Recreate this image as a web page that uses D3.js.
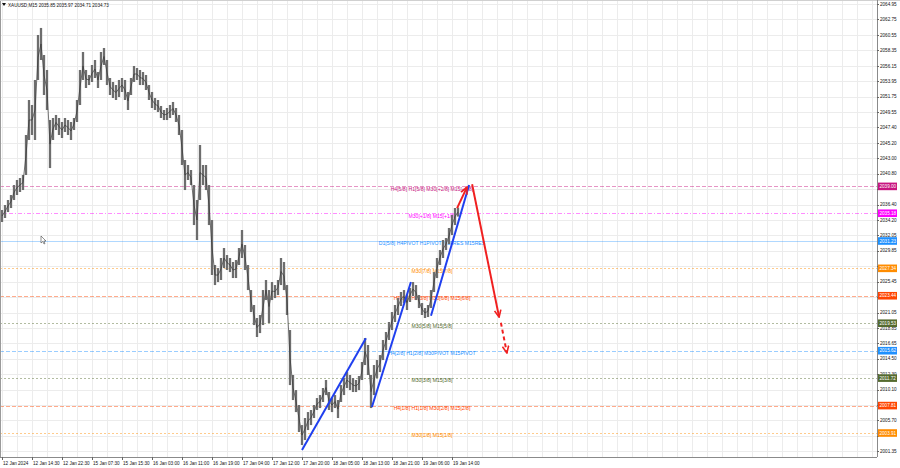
<!DOCTYPE html>
<html><head><meta charset="utf-8">
<script src="https://cdn.jsdelivr.net/npm/d3@7/dist/d3.min.js"></script>
<style>
html,body{margin:0;padding:0;background:#fff;}
svg{display:block;font-family:"Liberation Sans",Arial,sans-serif;}
</style></head>
<body>
<svg id="chart" width="900" height="468"></svg>
<script>
// ---------- DATA ----------
const symbolTitle = "XAUUSD,M15";
const lastOHLC = [2035.85, 2035.97, 2034.71, 2034.73];

// price bars (each = a small group of M15 candles): highs and lows
const barHigh = [2035.64,2036.35,2037.06,2037.77,2039.19,2039.91,2040.19,2040.62,2046.31,2051.29,
2050.58,2054.14,2060.54,2061.54,2057.69,2055.56,2048.44,2048.73,2049.16,2048.73,
2048.16,2048.73,2048.44,2048.16,2048.73,2051.29,2055.56,2058.12,2055.56,2054.85,
2056.27,2056.98,2055.27,2058.12,2058.69,2056.98,2054.42,2053.85,2053.42,2054.14,
2054.42,2054.14,2052.43,2054.42,2056.13,2055.84,2055.56,2055.27,2054.85,2053.42,
2052.43,2051.57,2051.29,2050.44,2049.87,2050.15,2050.58,2051.01,2050.15,2049.16,
2047.02,2042.75,2042.04,2041.33,2039.19,2037.06,2044.89,2042.04,2042.04,2039.19,
2034.21,2027.81,2027.38,2028.81,2030.23,2029.23,2028.81,2028.24,2028.52,2030.23,
2032.79,2030.66,2027.81,2024.25,2022.12,2020.27,2020.70,2024.25,2025.68,2024.25,
2025.39,2024.96,2025.68,2028.81,2028.24,2024.96,2018.56,2012.16,2010.02,2007.89,
2005.04,2006.04,2006.89,2007.18,2007.89,2008.88,2009.31,2010.31,2011.45,2009.74,
2008.88,2009.31,2008.60,2010.73,2011.73,2012.58,2012.16,2011.73,2011.45,2012.02,
2014.01,2017.42,2016.43,2012.16,2013.58,2014.29,2015.00,2017.14,2018.28,2019.70,
2021.12,2022.12,2023.11,2023.97,2024.25,2023.54,2024.54,2025.39,2024.96,2023.54,
2022.40,2021.69,2022.12,2024.25,2026.81,2028.81,2029.94,2031.37,2031.65,2033.08,
2034.93,2035.92,2035.97];
const barLow = [2033.93,2034.50,2035.35,2035.92,2037.06,2037.77,2038.20,2038.48,2040.62,2045.60,
2046.31,2045.60,2054.14,2056.98,2052.00,2049.87,2041.61,2045.60,2047.02,2046.31,
2045.88,2046.74,2046.31,2045.60,2047.02,2048.16,2050.58,2054.14,2053.00,2053.42,
2053.85,2054.42,2053.00,2054.14,2056.27,2053.42,2052.00,2051.57,2051.29,2051.72,
2052.43,2051.29,2049.87,2052.00,2053.85,2054.14,2053.42,2053.42,2052.71,2051.29,
2050.15,2049.87,2049.58,2048.73,2048.44,2048.44,2048.73,2049.16,2048.16,2046.31,
2042.04,2038.48,2039.91,2039.19,2033.50,2031.37,2037.06,2039.19,2038.48,2033.50,
2026.39,2024.96,2025.39,2025.68,2027.38,2027.10,2026.81,2025.96,2025.96,2027.81,
2028.81,2027.10,2024.25,2021.12,2019.27,2017.57,2018.13,2019.27,2022.83,2019.56,
2022.83,2023.11,2023.54,2024.96,2024.25,2020.70,2010.73,2008.60,2006.89,2004.05,
2002.20,2002.91,2004.33,2005.04,2006.04,2007.18,2007.46,2008.32,2009.31,2007.18,
2006.89,2007.46,2006.04,2008.32,2009.31,2010.31,2010.02,2009.74,2009.74,2010.02,
2011.45,2013.58,2012.16,2007.46,2009.31,2011.73,2012.58,2014.29,2015.71,2017.14,
2018.56,2019.70,2020.70,2021.98,2022.40,2021.41,2022.55,2023.40,2022.83,2021.69,
2020.70,2020.27,2020.41,2021.69,2023.97,2025.96,2027.81,2028.81,2029.94,2030.80,
2032.08,2033.50,2034.71];

// time axis labels and the bar index they sit on
const timeLabels = ["12 Jan 2024","12 Jan 14:30","12 Jan 22:30","15 Jan 07:30","15 Jan 15:30","16 Jan 03:00",
"16 Jan 11:00","16 Jan 19:00","17 Jan 04:00","17 Jan 12:00","17 Jan 20:00","18 Jan 05:00",
"18 Jan 13:00","18 Jan 21:00","19 Jan 06:00","19 Jan 14:00"];
const timeLabelIdx = [0,10,20,30,40,50,60,70,80,90,100,110,120,130,140,150];

// price axis ticks
const priceTicks = [2064.95,2062.75,2060.55,2058.35,2056.15,2053.95,2051.75,2049.55,2047.40,2045.20,
2043.00,2040.80,2038.60,2036.40,2034.20,2032.05,2029.85,2027.65,2025.45,2023.25,2021.05,2018.85,
2016.65,2014.50,2012.30,2010.10,2007.90,2005.70,2003.50,2001.35];

// Murrey math levels
const levelPrices = [2039.00,2035.18,2031.23,2027.34,2023.44,2019.53,2015.62,2011.72,2007.81,2003.91];
const levelNames = ["H4[5/8] H1[5/8] M30[+2/8] M15[+2/8]","M30[+1/8] M15[+1/8]",
"D1[5/8] H4PIVOT H1PIVOT M30RES M15RES","M30[7/8] M15[7/8]","H4[3/8] H1[3/8] M30[6/8] M15[6/8]",
"M30[5/8] M15[5/8]","H4[2/8] H1[2/8] M30PIVOT M15PIVOT","M30[3/8] M15[3/8]",
"H4[1/8] H1[1/8] M30[2/8] M15[2/8]","M30[1/8] M15[1/8]"];
const levelColors = ["#c8157f","#ff00ff","#1e90ff","#ff8c00","#ff4500","#556b2f","#1e90ff","#556b2f","#ff4500","#ff8c00"];
const levelDash = ["4,2","4,2,1,2","none","2,2","4,2","2,2","4,2","2,2","4,2","2,2"];

// zigzag swings (bar index, price)
const swingStart = [[100,2001.5],[123.3,2007.6],[143,2020.6]];
const swingEnd   = [[121.3,2017.4],[136.3,2025.4],[155.7,2039.2]];
// projected path arrows
const projStart = [[151.7,2035.9],[156.7,2039.3],[166.3,2019.6]];
const projEnd   = [[155.0,2038.9],[165.7,2020.4],[168.3,2015.3]];
const projDash  = ["none","none","4,3"];

// ---------- CHART ----------
const W = 900, H = 468, plotR = 877, plotB = 457;
const svg = d3.select("#chart");
const x = d3.scaleLinear().domain([0, 291]).range([2, 875]);
const y = d3.scaleLinear().domain([2001.35, 2064.95]).range([451, 4]);

svg.append("rect").attr("width",W).attr("height",H).attr("fill","#fff");

// grid
const grid = svg.append("g").attr("stroke","#ececec").attr("stroke-width",1);
grid.selectAll("line.v").data(d3.range(0, 292, 5)).join("line")
  .attr("x1",d=>Math.round(x(d))+0.5).attr("x2",d=>Math.round(x(d))+0.5)
  .attr("y1",0).attr("y2",plotB);
grid.selectAll("line.h").data(priceTicks).join("line")
  .attr("x1",0).attr("x2",plotR)
  .attr("y1",d=>Math.round(y(d))+0.5).attr("y2",d=>Math.round(y(d))+0.5);

// level lines
const lv = svg.append("g");
levelPrices.forEach((p,i)=>{
  lv.append("line").attr("x1",0).attr("x2",plotR)
    .attr("y1",Math.round(y(p))+0.5).attr("y2",Math.round(y(p))+0.5)
    .attr("stroke",levelColors[i]).attr("stroke-opacity",i===2?0.35:0.45)
    .attr("stroke-width",1)
    .attr("stroke-dasharray",levelDash[i]==="none"?null:levelDash[i]);
  lv.append("text").attr("x",432).attr("y",y(p)+4.3)
    .attr("text-anchor","middle").attr("font-size",5.1)
    .attr("fill",levelColors[i]).text(levelNames[i]);
});

// price bars
const bars = svg.append("g");
bars.selectAll("line.w").data(barHigh).join("line")
  .attr("x1",(d,i)=>x(i)).attr("x2",(d,i)=>x(i))
  .attr("y1",d=>y(d)).attr("y2",(d,i)=>y(barLow[i]))
  .attr("stroke","#b4b4b4").attr("stroke-width",2.6);
bars.selectAll("line.b").data(barHigh).join("line")
  .attr("x1",(d,i)=>x(i)).attr("x2",(d,i)=>x(i))
  .attr("y1",d=>y(d)).attr("y2",(d,i)=>y(barLow[i]))
  .attr("stroke","#262626").attr("stroke-width",1);
bars.append("path")
  .attr("d", d3.line().x((d,i)=>x(i)).y((d,i)=>y((d+barLow[i])/2))(barHigh))
  .attr("fill","none").attr("stroke","#3a3a3a").attr("stroke-width",0.7);

// zigzag
const zz = svg.append("g");
swingStart.forEach((s,i)=>{
  zz.append("line").attr("x1",x(s[0])).attr("y1",y(s[1]))
    .attr("x2",x(swingEnd[i][0])).attr("y2",y(swingEnd[i][1]))
    .attr("stroke","#1f3fef").attr("stroke-width",2);
});

// arrow marker
const defs = svg.append("defs");
defs.append("marker").attr("id","ah").attr("viewBox","-8 -4 9 8")
  .attr("markerWidth",9).attr("markerHeight",8).attr("refX",0).attr("refY",0)
  .attr("orient","auto").attr("markerUnits","userSpaceOnUse")
  .append("path").attr("d","M-7,-3.2 L0,0 L-7,3.2").attr("fill","none")
  .attr("stroke","#f02020").attr("stroke-width",1.6);
projStart.forEach((s,i)=>{
  zz.append("line").attr("x1",x(s[0])).attr("y1",y(s[1]))
    .attr("x2",x(projEnd[i][0])).attr("y2",y(projEnd[i][1]))
    .attr("stroke","#f02020").attr("stroke-width",2)
    .attr("stroke-dasharray",projDash[i]==="none"?null:projDash[i])
    .attr("marker-end","url(#ah)");
});

// frame
svg.append("line").attr("x1",0.5).attr("x2",0.5).attr("y1",0).attr("y2",plotB).attr("stroke","#9a9a9a");
svg.append("line").attr("x1",0).attr("x2",W).attr("y1",0.5).attr("y2",0.5).attr("stroke","#d0d0d0");
svg.append("line").attr("x1",plotR+0.5).attr("x2",plotR+0.5).attr("y1",0).attr("y2",plotB).attr("stroke","#8a8a8a");
svg.append("line").attr("x1",0).attr("x2",plotR).attr("y1",plotB+0.5).attr("y2",plotB+0.5).attr("stroke","#8a8a8a");

// y axis labels (labels sitting under a level box are not drawn)
const ya = svg.append("g").attr("font-size",4.6).attr("fill","#111");
priceTicks.forEach(p=>{
  ya.append("line").attr("x1",plotR).attr("x2",plotR+2).attr("y1",Math.round(y(p))+0.5).attr("y2",Math.round(y(p))+0.5).attr("stroke","#666");
  const hidden = levelPrices.some(l=>Math.abs(y(l)-y(p))<3.4);
  if(!hidden) ya.append("text").attr("x",880).attr("y",y(p)+1.7).text(p.toFixed(2));
});
// level boxes
levelPrices.forEach((p,i)=>{
  ya.append("rect").attr("x",878).attr("y",y(p)-3.8).attr("width",19).attr("height",7.6).attr("fill",levelColors[i]);
  ya.append("text").attr("x",879.5).attr("y",y(p)+1.7).attr("fill","#fff").text(p.toFixed(2));
});

// x axis labels
const xa = svg.append("g").attr("font-size",4.6).attr("fill","#111");
timeLabelIdx.forEach((idx,i)=>{
  const px = Math.round(x(idx))+0.5;
  xa.append("line").attr("x1",px).attr("x2",px).attr("y1",plotB).attr("y2",plotB+3).attr("stroke","#666");
  xa.append("text").attr("x",px+0.5).attr("y",465).text(timeLabels[i]);
});

// header
svg.append("path").attr("d","M2,3 L6,3 L4,6 Z").attr("fill","#111");
svg.append("text").attr("x",8).attr("y",7.2).attr("font-size",4.6).attr("fill","#111")
  .text(symbolTitle+"  "+lastOHLC.map(v=>v.toFixed(2)).join(" "));

// mouse pointer
svg.append("path").attr("d","M41,236 L41,243 L42.8,241.4 L44,244 L45,243.5 L43.8,241 L46,241 Z")
  .attr("fill","#fff").attr("stroke","#444").attr("stroke-width",0.6);
</script>
</body></html>
